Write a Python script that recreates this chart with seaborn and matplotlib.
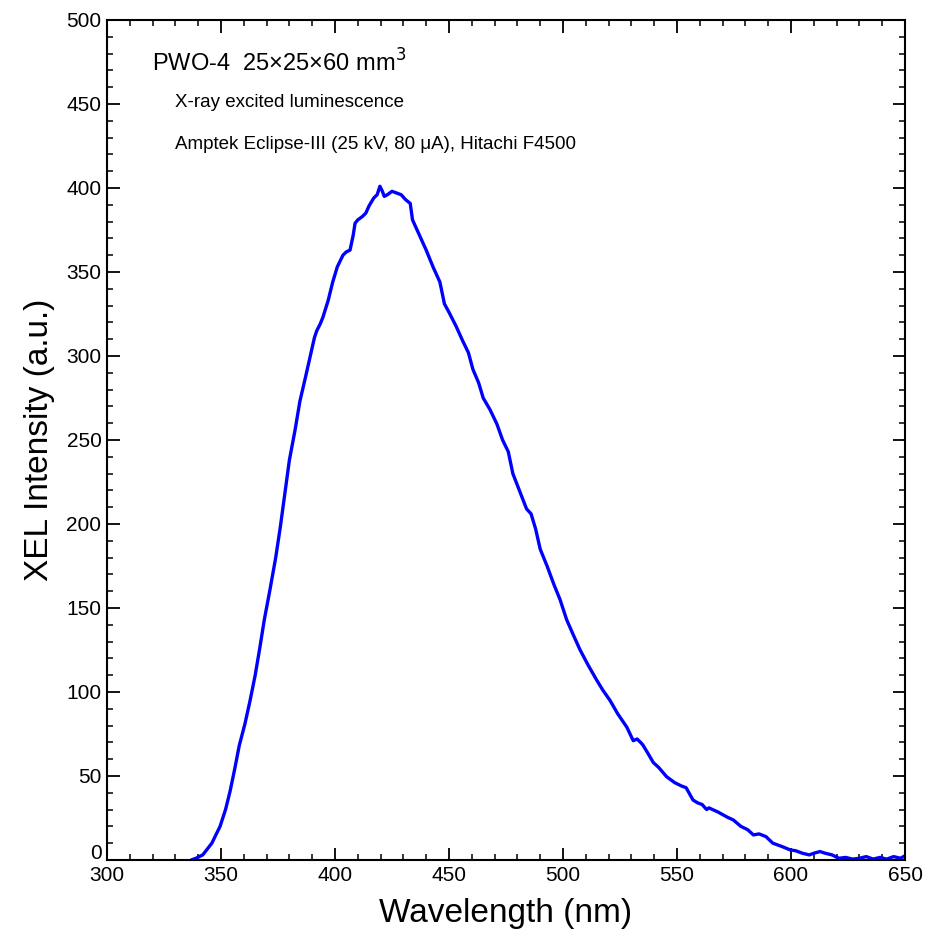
import matplotlib
matplotlib.use("Agg")
import matplotlib.pyplot as plt
from matplotlib.ticker import MultipleLocator
import matplotlib.transforms as mtransforms
import seaborn as sns
import pandas as pd

wavelength = [337, 339, 342, 346, 349.6, 352, 354, 356, 358, 360.5, 362.7, 365, 367, 369, 371.5,
              374, 376, 378, 380, 382.5, 384.6, 387, 389, 391, 392, 393.5, 394.7, 397, 399,
              401, 403.5, 405, 406.6, 408, 408.8, 410, 412, 413.5, 415, 417, 418.5, 419.7,
              420.8, 421.6, 423, 425, 427, 429, 431, 433, 434, 436, 438, 440, 443, 446, 448,
              450, 453, 456, 458.5, 460.5, 463, 465, 468, 471, 473.5, 476, 478, 480, 482.6,
              484, 486, 488, 490, 493, 496, 498.7, 501.6, 504.5, 507.5, 511, 514.8, 517.5,
              520.6, 524, 528, 530.8, 532.5, 534, 535, 537, 539.6, 542, 545.4, 549, 552,
              554, 557, 559, 561, 563, 564, 565.9, 568, 570, 572, 574.7, 578, 581, 583.5,
              586, 589, 592, 596, 599.6, 602, 605, 608, 610, 612.7, 615, 618, 621, 624,
              627, 630, 633, 636, 639, 642, 645, 648, 650]
intensity = [0, 1, 3, 10, 20, 30, 41, 54, 68, 81, 94.5, 110, 126, 143, 161,
             180, 198, 218, 238, 256, 273, 287, 299, 311, 315, 319, 323, 333, 344,
             353, 360, 362, 363, 372, 379, 381, 383, 385, 389.5, 394, 396, 401,
             398, 395, 396, 398, 397, 396, 393, 390.8, 381, 375, 369, 363, 353, 344, 331,
             326, 318, 309, 302, 292, 284, 275, 268, 259.5, 250, 243, 230, 223, 214,
             209, 206, 197, 185, 175, 164, 155, 143, 134, 125, 116, 107, 101,
             95, 87, 79, 71, 72, 70, 68.5, 64, 58, 55, 49.6, 46, 44,
             43, 35.7, 34, 33, 30, 31, 29.8, 28.5, 27, 25.5, 23.8, 20, 18, 14.9,
             15.5, 13.9, 10, 8, 6, 5.5, 4, 3, 4, 5, 4, 3, 1, 1.5,
             0.5, 1, 2, 0.5, 1.5, 0.5, 2, 1, 2.5]

df = pd.DataFrame({"Wavelength": wavelength, "Intensity": intensity})

sns.set_style("ticks")
plt.rcParams['font.family'] = ['Liberation Sans', 'DejaVu Sans']
plt.rcParams['text.color'] = 'black'
plt.rcParams['axes.labelcolor'] = 'black'
plt.rcParams['xtick.color'] = 'black'
plt.rcParams['ytick.color'] = 'black'

fig = plt.figure(figsize=(9.27, 9.42), dpi=100)
ax = fig.add_axes([0.1154, 0.0871, 0.8609, 0.8917])

sns.lineplot(data=df, x="Wavelength", y="Intensity", ax=ax, color="#0000FF",
             linewidth=2.4, sort=False, estimator=None)

ax.set_xlim(300, 650)
ax.set_ylim(0, 500)
ax.xaxis.set_major_locator(MultipleLocator(50))
ax.xaxis.set_minor_locator(MultipleLocator(10))
ax.yaxis.set_major_locator(MultipleLocator(50))
ax.yaxis.set_minor_locator(MultipleLocator(10))
ax.tick_params(which='both', direction='in', top=True, right=True, colors='black',
               labelcolor='black')
ax.tick_params(which='major', length=9, width=1.3, labelsize=15, pad=4)
ax.tick_params(which='minor', length=4.5, width=1.1)
for sp in ax.spines.values():
    sp.set_linewidth(1.5)
    sp.set_color('black')

ax.set_xlabel("Wavelength (nm)", fontsize=24, labelpad=10, color='black')
ax.set_ylabel("XEL Intensity (a.u.)", fontsize=24, labelpad=8, color='black')

ax.text(0.057, 0.965, "PWO-4  25×25×60 mm$^3$", transform=ax.transAxes,
        fontsize=17, va='top', ha='left', color='black')
ax.text(0.085, 0.912, "X-ray excited luminescence", transform=ax.transAxes,
        fontsize=13.5, va='top', ha='left', color='black')
ax.text(0.085, 0.862, "Amptek Eclipse-III (25 kV, 80 μA), Hitachi F4500", transform=ax.transAxes,
        fontsize=13.5, va='top', ha='left', color='black')

# nudge the y "0" label up slightly so it does not collide with the x "300" label
fig.canvas.draw()
for tick in ax.yaxis.get_major_ticks():
    if abs(tick.get_loc()) < 1e-9:
        lbl = tick.label1
        lbl.set_transform(lbl.get_transform() +
                          mtransforms.ScaledTranslation(0, 6 / 72, fig.dpi_scale_trans))

fig.savefig("out.png", dpi=100)
